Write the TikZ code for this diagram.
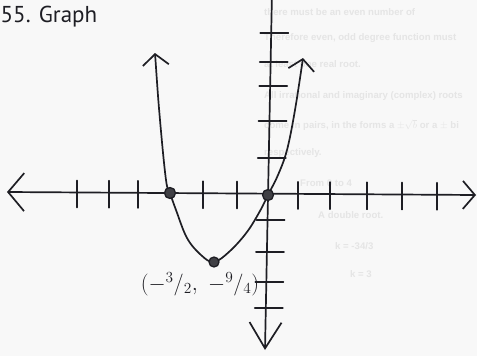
\documentclass[tikz,border=0pt]{standalone}
\usepackage{fontspec}
\usepackage{fix-cm}
\usetikzlibrary{arrows.meta}
\newfontfamily\headfont{PT Sans}
\newfontfamily\bleedfont{Liberation Sans}
\definecolor{ink}{HTML}{1E1E24}
\definecolor{paper}{HTML}{F8F8F8}
\tikzset{
    pen/.style={draw=ink, line width=1.7pt, line cap=round, line join=round},
    inkdot/.style={circle, draw=ink, fill=ink!85, line width=1.3pt, inner sep=0pt, minimum size=11pt},
    bleed/.style={anchor=west, inner sep=0pt, text=black!10, font=\bleedfont\bfseries\fontsize{9.6}{12}\selectfont}
}

\begin{document}
\begin{tikzpicture}[x=1pt,y=-1pt]
    \useasboundingbox[fill=paper] (0,0) rectangle (477,356);

    % show-through from the back of the page
    \node[bleed] (b1) at (264,12) {there must be an even number of};
    \node[bleed] (b2) at (264,38) {Therefore even, odd degree function must};
    \node[bleed] (b3) at (264,64) {at least one real root.};
    \node[bleed] (b4) at (264,96) {All irrational and imaginary (complex) roots};
    \node[bleed] (b5) at (264,125) {come in pairs, in the forms a $\pm\sqrt{b}$ or a $\pm$ bi};
    \node[bleed] (b6) at (264,153) {respectively.};
    \node[bleed] (b7) at (300,183) {From 0 to 4};
    \node[bleed] (b8) at (318,215) {A double root.};
    \node[bleed] (b9) at (335,246) {k = -34/3};
    \node[bleed] (b10) at (350,274) {k = 3};

    \node[anchor=west, inner sep=0pt, text=ink, font=\headfont\fontsize{23}{28}\selectfont] (title) at (0.5,17) {55. Graph};

    % axes
    \coordinate (xl) at (7,192);
    \coordinate (xr) at (476,195);
    \coordinate (yt) at (272,-8);
    \coordinate (yb) at (265,350);
    \draw[pen, {Straight Barb[length=16pt,width=38pt]}-{Straight Barb[length=12pt,width=28pt]}] (xl) -- (xr);
    \draw[pen, -{Straight Barb[length=26pt,width=32pt]}] (yt) -- (yb);

    \foreach \tx in {77,109,138,203,237,298,330,367,402,437}
        \draw[pen] (\tx,{180+0.0064*\tx}) -- (\tx,{207+0.0064*\tx});
    \foreach \ty in {33,62,86,121,158,220,252,282,308}
        \draw[pen] ({261-0.02*\ty},\ty) -- ({289-0.02*\ty},\ty);

    % the parabola
    \draw[pen, {Straight Barb[length=11pt,width=26pt]}-{Straight Barb[length=11pt,width=26pt]}]
        plot[smooth, tension=0.6] coordinates {(155,53) (160,120) (166,180) (170,193) (176,210)
        (187,238) (201,255) (214,262) (230,251) (247,232) (260,211) (268,195) (278,175)
        (287,150) (295,110) (303,58)};

    \node[inkdot] (r1) at (170,193) {};
    \node[inkdot] (r2) at (268,195) {};
    \node[inkdot, minimum size=10pt] (v) at (214,262) {};

    \node[text=ink, font=\fontsize{22}{26}\selectfont] (vlab) at (200,284) {$({-}{}^{3}/_{2},\ {-}{}^{9}/_{4})$};
\end{tikzpicture}
\end{document}
